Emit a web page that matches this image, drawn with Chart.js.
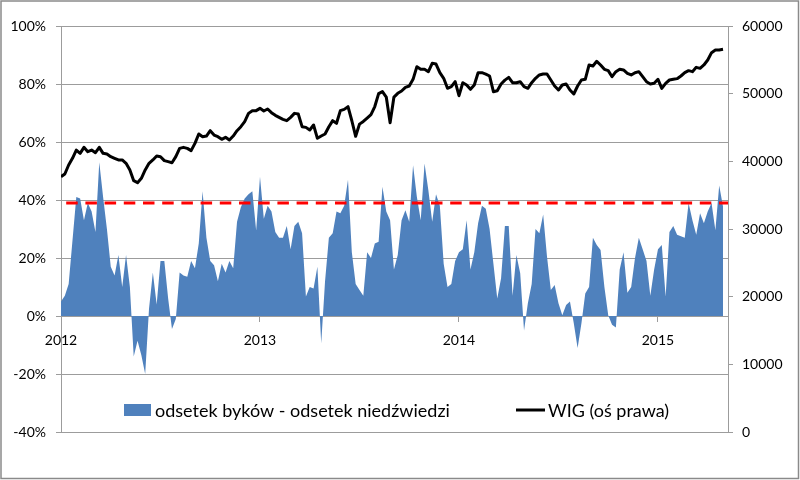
<!DOCTYPE html>
<html>
<head>
<meta charset="utf-8">
<script src="https://cdn.jsdelivr.net/npm/chart.js"></script>
<style>
  html, body { margin: 0; padding: 0; background: #fff; }
  canvas { display: block; }
</style>
</head>
<body>
<canvas id="wigChart" width="800" height="480"></canvas>
<script>
// tygodniowe dane od poczatku 2012 r.
const bullBearSpread = [
  5, 7, 11, 26, 41, 40.5, 33, 39, 36, 29, 53, 41, 30, 17, 14, 21, 10, 21, 10, -14,
  -8.5, -13.5, -20, 2.5, 15, 4, 19, 19, 6, -4.5, -1, 15, 14, 13.5, 19, 16.5, 25, 43, 27, 19,
  17.5, 12, 18, 15, 19, 16.5, 32.5, 37.5, 40.5, 42, 43, 29.5, 48, 33.5, 38, 36, 29, 27, 27, 31,
  23, 31, 32.5, 28.5, 6.7, 10, 9.5, 17, -9.4, 12, 27, 28.5, 36, 35.4, 38, 47, 22, 11, 9, 7,
  22, 20, 25, 25.6, 44.6, 36, 33, 16, 21, 33, 36.5, 32.5, 52, 41, 33, 52.6, 43.4, 32.5, 42, 38,
  18, 10, 11, 19, 22, 23, 33, 16, 22, 32, 38, 37, 30, 18, 6, 13, 31, 31, 7, 21,
  14.7, -5, 4.4, 11, 30, 28.5, 35, 20.5, 9, 10.7, 4.4, 0.3, 3.8, 5, -2.5, -11, -2.5, 7.8, 10, 27,
  24.5, 22.8, 10, 0.3, -3, -4, 16, 22, 8, 10, 20, 27, 23, 19, 7, 16, 23, 24.5, 6.7, 29,
  31, 28, 27.5, 27, 39, 33, 28, 35.4, 32, 36, 39, 29.6, 45, 37.7
];

const wig = [
  37730, 38130, 39460, 40440, 41670, 41180, 42070, 41430, 41670, 41280,
  42070, 41180, 41080, 40690, 40440, 40200, 40200, 39700, 38720, 37140,
  36850, 37490, 38720, 39700, 40200, 40790, 40690, 40100, 39950, 39800,
  40690, 41920, 42070, 41920, 41580, 42660, 44040, 43640, 43740, 44530,
  43890, 43640, 43250, 43550, 43150, 43740, 44530, 45120, 45860, 47090,
  47490, 47490, 47830, 47440, 47730, 47190, 46800, 46500, 46210, 46010,
  46500, 47090, 46990, 45120, 45020, 44630, 45370, 43400, 43740, 44040,
  45120, 46010, 45620, 47490, 47680, 48080, 46000, 43700, 45500, 45900,
  46400, 46900, 48100, 50000, 50300, 49500, 45700, 49500, 50050, 50390,
  50940, 51130, 52120, 53990, 53600, 53600, 53250, 54480, 54380, 53100,
  52270, 50790, 51030, 51770, 49700, 51620, 51280, 50640, 51280, 53100,
  53100, 52900, 52610, 50290, 50440, 51430, 52000, 52410, 51620, 51620,
  51770, 51030, 50790, 51620, 52270, 52760, 52900, 52900, 52020, 51130,
  50540, 51280, 51430, 50540, 49950, 51130, 52020, 52120, 54240, 54090,
  54780, 54240, 53600, 53400, 52510, 53250, 53600, 53500, 53000, 52760,
  53100, 53250, 52510, 51770, 51430, 51530, 52120, 50790, 51530, 52020,
  52120, 52220, 52610, 53100, 53400, 53250, 53890, 53740, 54240, 54970,
  56060, 56450, 56450, 56550
];

const threshold = 39;
const yearLabels = ['2012', '2013', '2014', '2015'];
const yearStartWeek = [0, 52, 104, 156];
const leftTicks = [-40, -20, 0, 20, 40, 60, 80, 100];
const rightTicks = [0, 10000, 20000, 30000, 40000, 50000, 60000];

const seriesNames = ['odsetek byków - odsetek niedźwiedzi', 'WIG (oś prawa)'];

const lastWeek = 174.3;
const toPoints = arr => arr.map((v, i) => ({ x: i, y: v }));

Chart.defaults.font.family = 'Lato, "Open Sans", sans-serif';
Chart.defaults.font.size = 14;
Chart.defaults.color = '#000';

const gridGrey = '#9c9c9c';

// ramka + legenda wewnatrz wykresu
const framePlugin = {
  id: 'frame',
  beforeDraw(chart) {
    const c = chart.ctx;
    c.save();
    c.fillStyle = '#fff';
    c.fillRect(0, 0, chart.width, chart.height);
    c.restore();
  },
  afterDraw(chart) {
    const c = chart.ctx;
    const a = chart.chartArea;
    c.save();
    c.strokeStyle = '#8a8a8a';
    c.lineWidth = 1.5;
    c.strokeRect(1, 1, chart.width - 2.5, chart.height - 2.5);

    const ly = a.bottom - 22;
    c.font = '18px Lato, "Open Sans", sans-serif';
    c.textBaseline = 'middle';
    c.fillStyle = '#4f81bd';
    let x = a.left + 63;
    c.fillRect(x, ly - 6, 27, 12);
    c.fillStyle = '#000';
    c.fillText(seriesNames[0], x + 31, ly + 1);

    x = a.left + 455;
    c.strokeStyle = '#000';
    c.lineWidth = 3;
    c.beginPath();
    c.moveTo(x, ly);
    c.lineTo(x + 29, ly);
    c.stroke();
    c.fillText(seriesNames[1], x + 32, ly + 1);
    c.restore();
  }
};

const config = {
  type: 'line',
  data: {
    datasets: [
      {
        label: seriesNames[1],
        data: toPoints(wig),
        yAxisID: 'y2',
        borderColor: '#000',
        borderWidth: 3,
        borderJoinStyle: 'round',
        pointRadius: 0,
        tension: 0,
        fill: false,
        order: 0
      },
      {
        label: 'średnia',
        data: [{ x: 0, y: threshold }, { x: lastWeek, y: threshold }],
        yAxisID: 'y',
        borderColor: '#ff0000',
        borderWidth: 3,
        borderDash: [11.5, 7.7],
        borderDashOffset: 14,
        pointRadius: 0,
        fill: false,
        order: 1
      },
      {
        label: seriesNames[0],
        data: toPoints(bullBearSpread),
        yAxisID: 'y',
        backgroundColor: '#4f81bd',
        borderColor: '#4f81bd',
        borderWidth: 0,
        pointRadius: 0,
        tension: 0,
        fill: 'origin',
        order: 2
      }
    ]
  },
  options: {
    responsive: false,
    animation: false,
    devicePixelRatio: 1,
    layout: { padding: { left: 0, right: 0, top: 26, bottom: 48 } },
    plugins: {
      legend: { display: false },
      tooltip: { enabled: false }
    },
    scales: {
      x: {
        type: 'linear',
        position: { y: 0 },
        min: 0,
        max: lastWeek,
        afterBuildTicks: s => { s.ticks = yearStartWeek.map(v => ({ value: v })); },
        ticks: {
          padding: 11,
          callback: v => yearLabels[yearStartWeek.indexOf(v)]
        },
        grid: { drawOnChartArea: false, tickLength: 5, color: gridGrey },
        border: { color: gridGrey }
      },
      y: {
        position: 'left',
        min: -40,
        max: 100,
        afterBuildTicks: s => { s.ticks = leftTicks.map(v => ({ value: v })); },
        afterFit: s => { s.width = 61; },
        ticks: { padding: 10, callback: v => v + '%' },
        grid: { color: gridGrey, tickLength: 5 },
        border: { color: gridGrey }
      },
      y2: {
        position: 'right',
        min: 0,
        max: 60000,
        afterBuildTicks: s => { s.ticks = rightTicks.map(v => ({ value: v })); },
        afterFit: s => { s.width = 72; },
        ticks: { padding: 9, callback: v => String(v) },
        grid: { drawOnChartArea: false, color: gridGrey, tickLength: 5 },
        border: { color: gridGrey }
      }
    }
  },
  plugins: [framePlugin]
};

window.addEventListener('DOMContentLoaded', () => {
  const ctx = document.getElementById('wigChart').getContext('2d');
  new Chart(ctx, config);
});
</script>
</body>
</html>
